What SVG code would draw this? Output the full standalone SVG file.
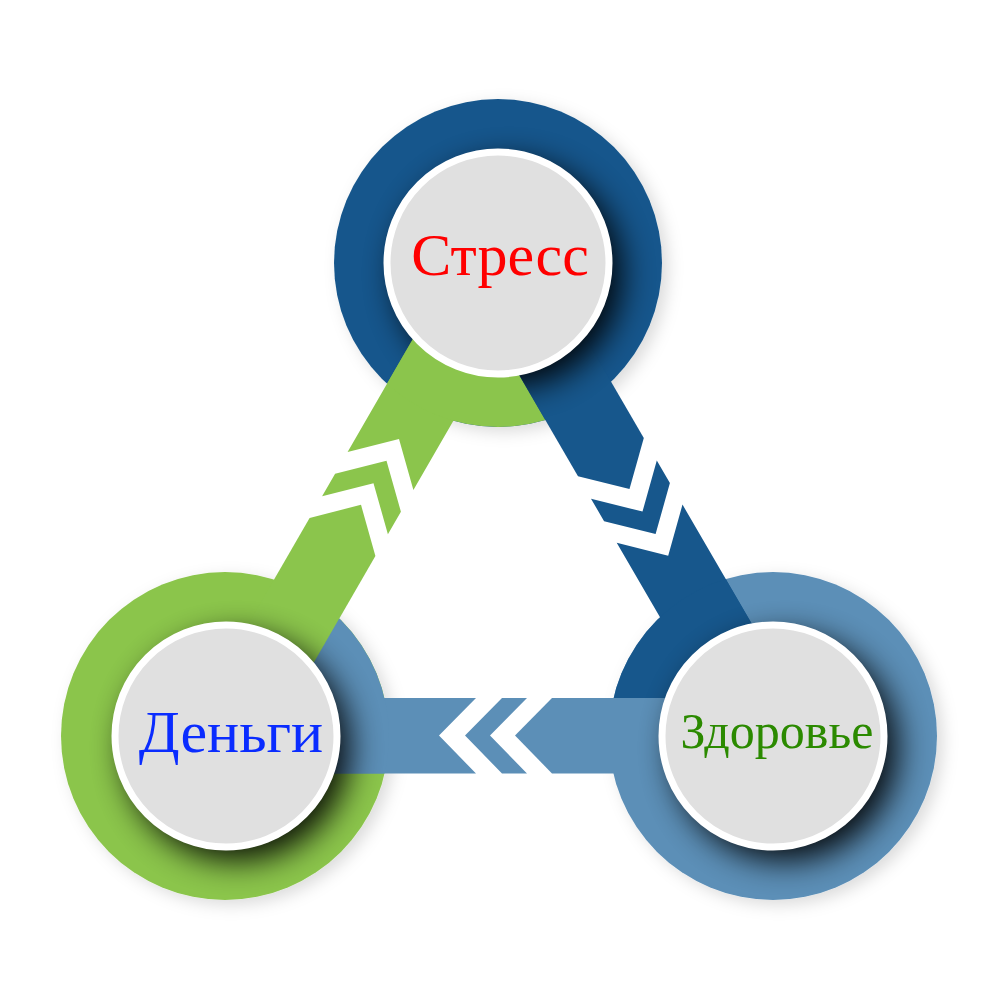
<svg xmlns="http://www.w3.org/2000/svg" width="1001" height="1000" viewBox="0 0 1001 1000">
<style>
.dk{fill:#17578c}
.lb{fill:#5c8fb7}
.gr{fill:#8bc54c}
.inner{fill:#e0e0e0;stroke:#ffffff;stroke-width:7}
.shadow{fill:#000000;opacity:0.92}
.lbl{font-family:"Liberation Serif","Times New Roman",serif;text-anchor:middle}
</style>
<defs>
<clipPath id="cT"><circle cx="498" cy="263" r="164"/></clipPath>
<clipPath id="cL"><circle cx="225" cy="736" r="164"/></clipPath>
<clipPath id="cR"><circle cx="773" cy="736" r="164"/></clipPath>
<mask id="mT" maskUnits="userSpaceOnUse" x="0" y="0" width="1001" height="1000">
<circle cx="498" cy="263" r="164" fill="#fff"/>
<polygon points="455.4,265.3 606.2,524.7 305.4,525.1" fill="#000"/>
</mask>
<filter id="blur" x="-40%" y="-40%" width="180%" height="180%"><feGaussianBlur stdDeviation="16"/></filter>
<filter id="soft" x="-20%" y="-20%" width="140%" height="140%"><feDropShadow dx="6" dy="5" stdDeviation="8" flood-color="#000" flood-opacity="0.14"/></filter>
</defs>
<rect x="0" y="0" width="1001" height="1000" fill="#ffffff"/>

<g id="rings" filter="url(#soft)">
<circle id="ring-stress" class="dk" cx="498" cy="263" r="164"/>
<circle id="ring-money" class="gr" cx="225" cy="736" r="164"/>
<circle id="ring-health" class="lb" cx="773" cy="736" r="164"/>
</g>

<g id="connectors">
<g id="arrow-money-stress" class="gr">
<polygon points="194.1,717.9 309.6,517.9 361,504.8 375.4,555.9 259.9,755.9"/>
<polygon points="322.1,496.2 335.1,473.7 386.5,460.7 400.9,511.7 387.9,534.2 373.5,483.2"/>
<polygon points="347.6,452.1 467.1,245.1 532.9,283.1 413.4,490.1 399,439"/>
<polygon points="455.4,265.3 606.2,524.7 305.4,525.1" clip-path="url(#cT)"/>
</g>
<g id="arrow-stress-health" class="dk">
<polygon points="465.1,282.1 578,476.2 629.5,489.1 643.8,438 530.9,243.9"/>
<polygon points="591,498.7 604.1,521.2 655.6,534.1 669.9,483 656.8,460.5 642.5,511.6"/>
<polygon points="616.7,542.8 740.1,755.1 805.9,716.9 682.5,504.6 668.2,555.7"/>
<polygon points="794.9,698 593.7,352 400,352 400,698" clip-path="url(#cR)"/>
</g>
<g id="arrow-health-money" class="lb">
<polygon points="773,698 552,698 515,735.5 552,773.5 773,773.5"/>
<polygon points="527,698 502,698 465,735.5 502,773.5 527,773.5 490,735.5"/>
<polygon points="476,698 225,698 225,773.5 476,773.5 439,735.5"/>
<polygon points="249.7,773.5 373,560 600,560 600,773.5" clip-path="url(#cL)"/>
</g>
</g>

<g id="node-stress">
<g mask="url(#mT)"><circle class="shadow" cx="509" cy="274" r="113" filter="url(#blur)"/></g>
<circle class="inner" cx="498" cy="263" r="111"/>
<text class="lbl" x="500" y="275" font-size="60" fill="#ff0000">Стресс</text>
</g>

<g id="node-money">
<g clip-path="url(#cL)"><circle class="shadow" cx="237" cy="748" r="113" filter="url(#blur)"/></g>
<circle class="inner" cx="226" cy="736" r="111"/>
<text class="lbl" x="231" y="752" font-size="60" fill="#0a2cff">Деньги</text>
</g>

<g id="node-health">
<g clip-path="url(#cR)"><circle class="shadow" cx="785" cy="748" r="113" filter="url(#blur)"/></g>
<circle class="inner" cx="773" cy="736" r="111"/>
<text class="lbl" x="777" y="748" font-size="50" fill="#2b8a00">Здоровье</text>
</g>
</svg>
